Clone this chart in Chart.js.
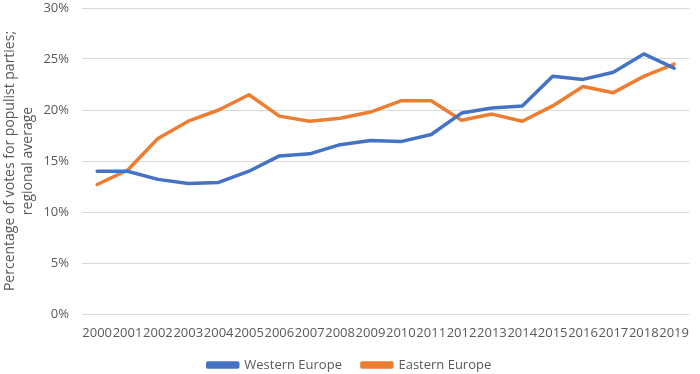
<!DOCTYPE html>
<html>
<head>
<meta charset="utf-8">
<script src="https://cdn.jsdelivr.net/npm/chart.js@4/dist/chart.umd.min.js"></script>
<style>
  html, body { margin: 0; padding: 0; background: #ffffff; }
  #wrap { width: 700px; height: 374px; position: relative; }
</style>
</head>
<body>
<div id="wrap"><canvas id="c"></canvas></div>
<script>
const years = ["2000","2001","2002","2003","2004","2005","2006","2007","2008","2009",
               "2010","2011","2012","2013","2014","2015","2016","2017","2018","2019"];
const westernEurope = [14.0, 14.0, 13.2, 12.8, 12.9, 14.0, 15.5, 15.7, 16.6, 17.0,
                       16.9, 17.6, 19.7, 20.2, 20.4, 23.3, 23.0, 23.7, 25.5, 24.1];
const easternEurope = [12.7, 14.1, 17.2, 18.9, 20.0, 21.5, 19.4, 18.9, 19.2, 19.8,
                       20.9, 20.9, 19.0, 19.6, 18.9, 20.4, 22.3, 21.7, 23.3, 24.5];
const yTicks = [0, 5, 10, 15, 20, 25, 30];
const yTitle = ["Percentage of votes for populist parties;", "regional average"];

const grey = "#595959";
const fontFamily = "'Open Sans', 'DejaVu Sans', sans-serif";

new Chart(document.getElementById("c"), {
  type: "line",
  data: {
    labels: years,
    datasets: [
      { label: "Western Europe", data: westernEurope, borderColor: "#4472C4", backgroundColor: "#4472C4",
        borderWidth: 3.5, pointRadius: 0, tension: 0, borderJoinStyle: "round", borderCapStyle: "round" },
      { label: "Eastern Europe", data: easternEurope, borderColor: "#ED7D31", backgroundColor: "#ED7D31",
        borderWidth: 3.5, pointRadius: 0, tension: 0, borderJoinStyle: "round", borderCapStyle: "round" }
    ]
  },
  options: {
    responsive: true,
    maintainAspectRatio: false,
    animation: false,
    layout: { padding: { top: 8, right: 1, bottom: 0, left: 0 } },
    plugins: {
      legend: {
        position: "bottom",
        maxHeight: 35.5,
        labels: {
          color: grey,
          font: { family: fontFamily, size: 13 },
          boxWidth: 30,
          boxHeight: 4,
          padding: 20
        }
      },
      tooltip: { enabled: false }
    },
    scales: {
      x: {
        offset: true,
        grid: { display: false, drawTicks: false },
        border: { display: false },
        ticks: {
          color: grey,
          font: { family: fontFamily, size: 13 },
          autoSkip: false,
          maxRotation: 0,
          minRotation: 0,
          padding: 11
        },
        afterFit: (s) => { s.height = 24.5; }
      },
      y: {
        min: 0,
        max: 30,
        afterBuildTicks: (s) => { s.ticks = yTicks.map(v => ({ value: v })); },
        grid: { color: "#d9d9d9", lineWidth: 1, drawTicks: false },
        border: { display: false },
        ticks: {
          color: grey,
          font: { family: fontFamily, size: 13 },
          padding: 13,
          callback: (v) => v + "%"
        },
        title: {
          display: true,
          text: yTitle,
          color: grey,
          font: { family: fontFamily, size: 14, lineHeight: 1.3 },
          padding: { top: 1, bottom: 0 }
        },
        afterFit: (s) => { s.width = 82; s.paddingTop = 0; s.paddingBottom = 0; }
      }
    }
  }
});
</script>
</body>
</html>
